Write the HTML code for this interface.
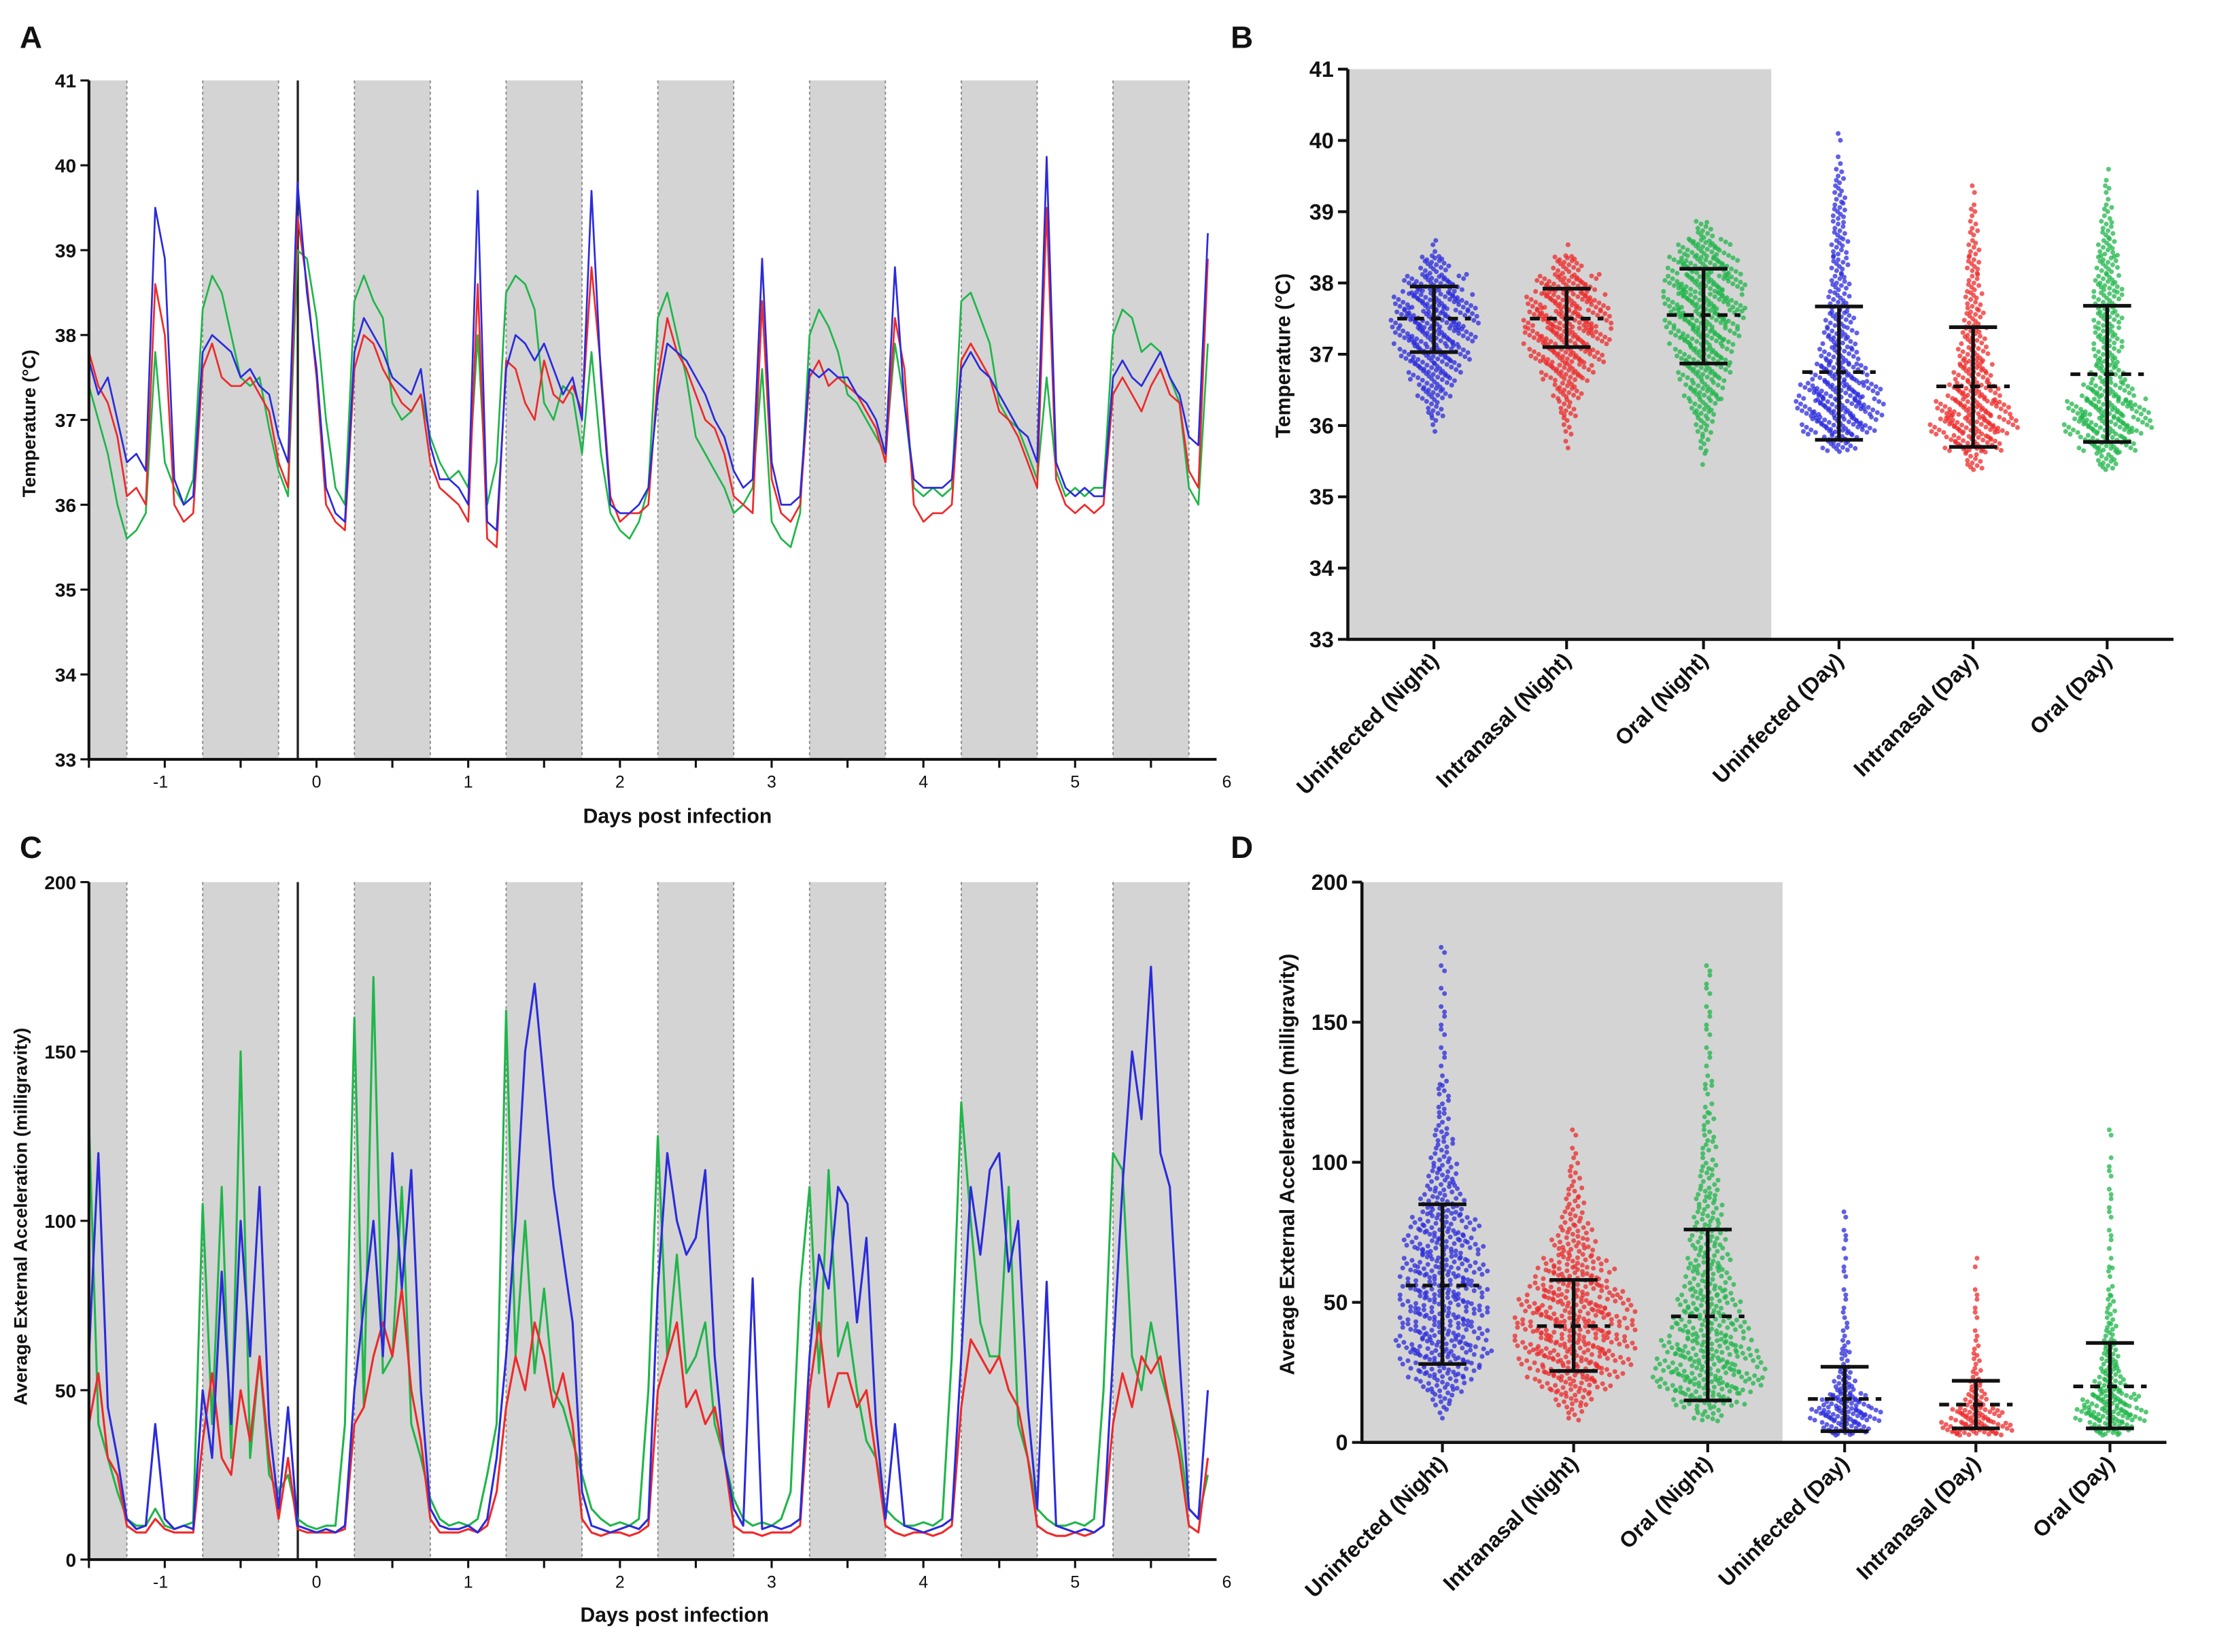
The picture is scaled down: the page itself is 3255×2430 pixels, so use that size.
<!DOCTYPE html>
<html><head><meta charset="utf-8">
<style>
html,body{margin:0;padding:0;background:#fff;}
svg{display:block;font-family:"Liberation Sans",Arial,sans-serif;}
.t{font-weight:bold;fill:#111;}
</style></head>
<body>
<svg id="fig" width="3255" height="2430" viewBox="0 0 1568 1170.5" preserveAspectRatio="none" xmlns="http://www.w3.org/2000/svg">
<g id="gA"></g>
<g id="gB"></g>
<g id="gC"></g>
<g id="gD"></g>
<text class="t" x="14" y="34" font-size="22">A</text>
<text class="t" x="872" y="34" font-size="22">B</text>
<text class="t" x="14" y="608" font-size="22">C</text>
<text class="t" x="872" y="608" font-size="22">D</text>
<text class="t" x="480" y="583" font-size="14.5" text-anchor="middle">Days post infection</text>
<text class="t" x="478" y="1149" font-size="14.5" text-anchor="middle">Days post infection</text>
<text class="t" font-size="13" text-anchor="middle" transform="translate(25,300) rotate(-90)">Temperature (°C)</text>
<text class="t" font-size="13" text-anchor="middle" transform="translate(19,862) rotate(-90)">Average External Acceleration  (milligravity)</text>
<text class="t" font-size="14.5" text-anchor="middle" transform="translate(914,252) rotate(-90)">Temperature (°C)</text>
<text class="t" font-size="14.5" text-anchor="middle" transform="translate(917,825) rotate(-90)">Average External Acceleration  (milligravity)</text>
</svg>
<script>
// ---------- time-series data (step 1/16 day from -1.5) ----------
const tStart = -1.5;
const tStep = 1/16;
const tempBlue = [37.7,37.3,37.5,37.0,36.5,36.6,36.4,39.5,38.9,36.3,36.0,36.1,37.8,38.0,37.9,37.8,
37.5,37.6,37.4,37.3,36.8,36.5,39.8,38.5,37.6,36.2,35.9,35.8,37.8,38.2,38.0,37.8,
37.5,37.4,37.3,37.6,36.7,36.3,36.3,36.2,36.0,39.7,35.8,35.7,37.6,38.0,37.9,37.7,
37.9,37.6,37.3,37.5,37.0,39.7,37.5,36.0,35.9,35.9,36.0,36.2,37.3,37.9,37.8,37.7,
37.5,37.3,37.0,36.8,36.4,36.2,36.3,38.9,36.5,36.0,36.0,36.1,37.6,37.5,37.6,37.5,
37.5,37.3,37.2,37.0,36.6,38.8,37.2,36.3,36.2,36.2,36.2,36.3,37.6,37.8,37.6,37.5,
37.3,37.1,36.9,36.8,36.5,40.1,36.5,36.2,36.1,36.2,36.1,36.1,37.5,37.7,37.5,37.4,
37.6,37.8,37.5,37.3,36.8,36.7,39.2];
const tempRed = [37.8,37.4,37.2,36.8,36.1,36.2,36.0,38.6,38.0,36.0,35.8,35.9,37.6,37.9,37.5,37.4,
37.4,37.5,37.3,37.1,36.5,36.2,39.4,38.6,37.5,36.0,35.8,35.7,37.6,38.0,37.9,37.6,
37.4,37.2,37.1,37.3,36.5,36.2,36.1,36.0,35.8,38.6,35.6,35.5,37.7,37.6,37.2,37.0,
37.7,37.3,37.2,37.4,37.1,38.8,37.6,36.1,35.8,35.9,35.9,36.0,37.5,38.2,37.8,37.6,
37.3,37.0,36.9,36.6,36.1,36.0,35.9,38.4,36.3,35.9,35.8,36.0,37.5,37.7,37.4,37.5,
37.4,37.3,37.1,36.9,36.5,38.2,37.6,36.0,35.8,35.9,35.9,36.0,37.7,37.9,37.7,37.5,
37.1,37.0,36.8,36.5,36.2,39.5,36.3,36.0,35.9,36.0,35.9,36.0,37.3,37.5,37.3,37.1,
37.4,37.6,37.3,37.2,36.4,36.2,38.9];
const tempGreen = [37.4,37.0,36.6,36.0,35.6,35.7,35.9,37.8,36.5,36.2,36.0,36.3,38.3,38.7,38.5,38.0,
37.5,37.4,37.5,36.9,36.4,36.1,39.0,38.9,38.2,37.0,36.2,36.0,38.4,38.7,38.4,38.2,
37.2,37.0,37.1,37.3,36.8,36.5,36.3,36.4,36.2,38.0,36.0,36.5,38.5,38.7,38.6,38.3,
37.2,37.0,37.4,37.3,36.6,37.8,36.6,35.9,35.7,35.6,35.8,36.2,38.2,38.5,38.0,37.5,
36.8,36.6,36.4,36.2,35.9,36.0,36.2,37.6,35.8,35.6,35.5,35.9,38.0,38.3,38.1,37.8,
37.3,37.2,37.0,36.8,36.6,37.9,37.2,36.2,36.1,36.2,36.1,36.2,38.4,38.5,38.2,37.9,
37.2,37.0,36.9,36.6,36.3,37.5,36.4,36.1,36.2,36.1,36.2,36.2,38.0,38.3,38.2,37.8,
37.9,37.8,37.5,37.2,36.2,36.0,37.9];
const accBlue = [60,120,45,30,12,9,10,40,12,9,10,9,50,30,85,40,
100,60,110,40,15,45,10,9,8,9,8,10,50,75,100,60,
120,80,115,50,15,10,9,9,10,8,12,30,60,100,150,170,
140,110,90,70,20,10,9,8,9,10,9,12,80,120,100,90,
95,115,60,30,15,10,83,9,10,9,10,12,60,90,80,110,
105,70,95,40,12,40,10,9,8,9,10,12,60,110,90,115,
120,85,100,45,15,82,10,9,8,9,8,10,60,110,150,130,
175,120,110,60,15,12,50];
const accRed = [40,55,30,25,10,8,8,12,9,8,8,8,35,55,30,25,
50,35,60,30,12,30,9,8,8,8,8,9,40,45,60,70,
60,80,50,35,12,8,8,8,9,8,10,20,45,60,50,70,
60,45,55,40,12,8,7,8,8,7,8,10,50,60,70,45,
50,40,45,30,10,8,8,7,8,8,8,10,50,70,45,55,
55,45,50,30,10,8,7,8,8,7,8,10,45,65,60,55,
60,50,45,30,10,8,7,7,8,7,8,10,40,55,45,60,
55,60,45,30,10,8,30];
const accGreen = [130,40,30,20,12,10,10,15,10,9,10,11,105,40,110,30,
150,30,60,25,20,25,12,10,9,10,10,40,160,45,172,55,
60,110,40,30,18,12,10,11,10,12,25,40,162,60,100,55,
80,50,45,35,25,15,12,10,11,10,12,50,125,60,90,55,
60,70,40,30,18,12,10,11,10,12,20,80,110,55,115,60,
70,50,35,30,15,12,10,10,11,10,12,60,135,100,70,60,
60,110,40,30,15,12,10,10,11,10,12,50,120,115,60,50,
70,55,45,35,15,12,25];
const nightStarts = [-1.75,-0.75,0.25,1.25,2.25,3.25,4.25,5.25];
const dayTicks = [-1,0,1,2,3,4,5,6];
const tempTicks = [33,34,35,36,37,38,39,40,41];
const accTicks = [0,50,100,150,200];

// ---------- scatter data ----------
const categories = ["Uninfected (Night)","Intranasal (Night)","Oral (Night)","Uninfected (Day)","Intranasal (Day)","Oral (Day)"];
const tempMeans = [37.5,37.5,37.55,36.75,36.55,36.72];
const tempSdLow = [37.03,37.1,36.87,35.8,35.7,35.77];
const tempSdHigh = [37.95,37.92,38.2,37.67,37.38,37.68];
const tempBinStart = 35.25, tempBinStep = 0.25;
const tempDensUN = [0,0,0,2,6,12,18,24,28,30,28,22,10,2,0,0,0,0,0,0,0];
const tempDensIN = [0,0,1,3,6,10,18,26,30,30,28,22,10,1,0,0,0,0,0,0,0];
const tempDensON = [0,1,3,6,10,14,18,20,24,27,28,28,25,18,6,0,0,0,0,0,0];
const tempDensUD = [0,0,12,26,30,28,20,14,12,10,8,7,6,6,5,5,4,3,1,1,0];
const tempDensID = [0,6,20,30,26,18,14,11,9,7,6,5,5,4,3,2,1,0,0,0,0];
const tempDensOD = [0,8,20,30,28,18,12,10,10,10,10,10,8,7,5,3,2,1,0,0,0];
const accMeans = [56,41.5,45,15.5,13.5,20];
const accSdLow = [28,25.5,15,4,5,5];
const accSdHigh = [85,58,76,27,22,35.5];
const accBinStart = 0, accBinStep = 5;
const accDensUN = [0,0,2,6,12,18,22,24,22,22,22,22,22,20,20,18,16,12,10,8,7,5,5,3,3,3,2,1,1,1,1,1,1,0,1,1];
const accDensIN = [0,0,4,10,18,24,28,30,30,30,28,24,20,16,12,9,7,5,4,3,2,1,1];
const accDensON = [0,0,8,18,26,28,26,24,20,18,16,14,12,11,10,9,8,7,6,5,4,4,3,3,2,2,2,1,1,1,1,1,1,1,1];
const accDensUD = [0,20,30,20,10,6,4,3,2,2,1,1,1,1,1,1,1];
const accDensID = [0,30,22,10,6,4,3,2,1,1,1,1,0,1];
const accDensOD = [0,18,30,24,14,10,8,6,5,4,3,2,2,1,1,1,1,1,1,1,1,0,1];

const blue="#2b2bdc", red="#ee2a2a", green="#1fb64a";
const NS="http://www.w3.org/2000/svg";
function mk(parent,tag,attrs){const e=document.createElementNS(NS,tag);for(const k in attrs)e.setAttribute(k,attrs[k]);parent.appendChild(e);return e;}

function xT(t){return 63+(t+1.5)*107.5;}
function yA(v){return 538-(v-33)*60.125;}
function yC(v){return 1105-v*2.4;}

function tsPanel(g,top,bottom,yFn,ticks,series,names,sw){
  nightStarts.forEach((s,i)=>{
    const x0=Math.max(xT(s),63), x1=Math.min(xT(s+0.5),860);
    const r=mk(g,'rect',{x:x0,y:top,width:x1-x0,height:bottom-top,fill:'#d4d4d4'});
    
    
    [s,s+0.5].forEach(b=>{const xb=xT(b); if(xb>63&&xb<860){const l=mk(g,'line',{x1:xb,x2:xb,y1:top,y2:bottom,stroke:'#888','stroke-width':0.9,'stroke-dasharray':'2,2'});
      
      }});
  });
  const inf=mk(g,'line',{x1:211,x2:211,y1:top,y2:bottom,stroke:'#222','stroke-width':1.6});
  
  
  series.forEach((arr,si)=>{
    const pts=arr.map((v,i)=>xT(tStart+i*tStep).toFixed(1)+','+yFn(v).toFixed(1)).join(' ');
    const p=mk(g,'polyline',{points:pts,fill:'none',stroke:[green,red,blue][si],'stroke-width':sw,'stroke-linejoin':'round'});
    
    
  });
  const ax=mk(g,'path',{d:`M63,${top} V${bottom} H862`,fill:'none',stroke:'#111','stroke-width':2});
  
  
  ticks.forEach(v=>{const y=yFn(v);
    mk(g,'line',{x1:57,x2:63,y1:y,y2:y,stroke:'#111','stroke-width':1.5});
    const tx=mk(g,'text',{x:54,y:y+5,'font-size':13.5,'text-anchor':'end','class':'t'});tx.textContent=v;
    
    
  });
  for(let d=-1.5;d<=6.01;d+=0.5){const x=xT(d); if(x>861)continue;
    mk(g,'line',{x1:x,x2:x,y1:bottom,y2:bottom+6,stroke:'#111','stroke-width':1.5});}
  dayTicks.forEach(d=>{const tx=mk(g,'text',{x:xT(d)-(d<0?3:0),y:bottom+20,'font-size':12,'text-anchor':'middle',fill:'#111'});tx.textContent=d;
    
    });
}
tsPanel(document.getElementById('gA'),57,538,yA,tempTicks,[tempGreen,tempRed,tempBlue],['temp-line-oral','temp-line-intranasal','temp-line-uninfected'],1.3);
tsPanel(document.getElementById('gC'),625,1105,yC,accTicks,[accGreen,accRed,accBlue],['accel-line-oral','accel-line-intranasal','accel-line-uninfected'],1.5);

function scatterPanel(g,cfg){
  const {x0,x1,top,bottom,greyEnd,yFn,ticks,cats,dens,binStart,binStep,means,lo,hi,wScales,perBin}=cfg;
  const bg=mk(g,'rect',{x:x0,y:top,width:greyEnd-x0,height:bottom-top,fill:'#d4d4d4'});
  
  
  const cols=[blue,red,green,blue,red,green];
  dens.forEach((arr,gi)=>{
    const cx=cats[gi], col=cols[gi], wScale=wScales[gi];
    const grp=mk(g,'g',{});
    
    
    arr.forEach((c,bi)=>{
      if(!c)return;
      const hw=c*wScale, n=Math.max(1,Math.round(c*perBin));
      const v0=binStart+bi*binStep-binStep/2;
      for(let j=0;j<n;j++){
        const fx=n===1?0:(j/(n-1)-0.5)*2;
        const fy=(j*0.618+bi*0.31)%1;
        const xx=cx+fx*hw*((j%3===0)?0.6:1), yy=yFn(v0+fy*binStep);
        mk(grp,'circle',{cx:xx.toFixed(1),cy:yy.toFixed(1),r:1.7,fill:col,'fill-opacity':0.75});
      }
    });
    const sd=mk(g,'path',{d:`M${cx-17},${yFn(lo[gi])} H${cx+17} M${cx-17},${yFn(hi[gi])} H${cx+17} M${cx},${yFn(lo[gi])} V${yFn(hi[gi])}`,stroke:'#111','stroke-width':2.6,fill:'none'});
    
    
    const mn=mk(g,'line',{x1:cx-26,x2:cx+26,y1:yFn(means[gi]),y2:yFn(means[gi]),stroke:'#111','stroke-width':2.6,'stroke-dasharray':'7,5'});
    
    
  });
  const ax=mk(g,'path',{d:`M${x0},${top} V${bottom} H${x1}`,fill:'none',stroke:'#111','stroke-width':2.2});
  
  
  ticks.forEach(v=>{const y=yFn(v);
    mk(g,'line',{x1:x0-7,x2:x0,y1:y,y2:y,stroke:'#111','stroke-width':2});
    const tx=mk(g,'text',{x:x0-10,y:y+5.5,'font-size':15.5,'text-anchor':'end','class':'t'});tx.textContent=v;
    
    
  });
  cats.forEach((cx,i)=>{
    mk(g,'line',{x1:cx,x2:cx,y1:bottom,y2:bottom+7,stroke:'#111','stroke-width':2});
    const tx=mk(g,'text',{'font-size':15.5,'text-anchor':'end','class':'t',transform:`translate(${cx+4},${bottom+16}) rotate(-45)`});
    tx.textContent=categories[i];
    
    
  });
}
function yB(v){return 453-(v-33)*50.5;}
function yD(v){return 1022-v*1.985;}
scatterPanel(document.getElementById('gB'),{x0:955,x1:1540,top:49,bottom:453,greyEnd:1255,yFn:yB,ticks:tempTicks,
  cats:[1016,1110,1207,1303,1398,1493],dens:[tempDensUN,tempDensIN,tempDensON,tempDensUD,tempDensID,tempDensOD],
  binStart:tempBinStart,binStep:tempBinStep,means:tempMeans,lo:tempSdLow,hi:tempSdHigh,wScales:[1.05,1.05,1.05,1.05,1.05,1.05],perBin:2});
scatterPanel(document.getElementById('gD'),{x0:965,x1:1535,top:625,bottom:1022,greyEnd:1263,yFn:yD,ticks:accTicks,
  cats:[1022,1115,1210,1307,1400,1495],dens:[accDensUN,accDensIN,accDensON,accDensUD,accDensID,accDensOD],
  binStart:accBinStart,binStep:accBinStep,means:accMeans,lo:accSdLow,hi:accSdHigh,wScales:[1.45,1.45,1.45,0.85,0.85,0.85],perBin:1.6});
</script>
</body></html>
